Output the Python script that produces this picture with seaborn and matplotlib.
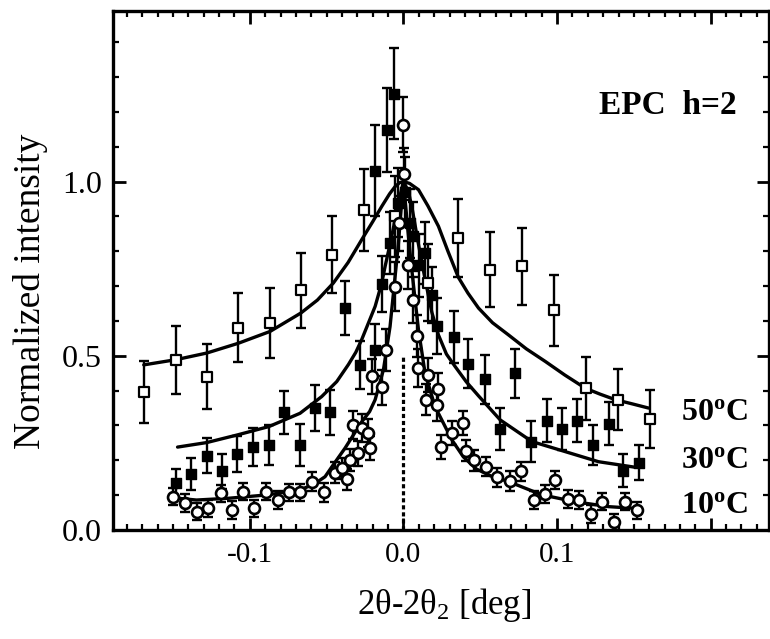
import numpy as np
import matplotlib
matplotlib.use('Agg')
import matplotlib.pyplot as plt
import seaborn as sns
from matplotlib.ticker import MultipleLocator, FixedLocator, FixedFormatter

# Données (2theta-2theta_2 en deg, intensité normalisée)
# 50 C : carrés ouverts
x_50 = [-0.169, -0.148, -0.128, -0.1075, -0.0868, -0.0667, -0.0463, -0.0254, -0.0054,
        0.0163, 0.0358, 0.0565, 0.0771, 0.0980, 0.1190, 0.1394, 0.1603]
y_50 = [0.396, 0.489, 0.440, 0.581, 0.594, 0.688, 0.790, 0.918, 0.900,
        0.710, 0.838, 0.747, 0.757, 0.631, 0.407, 0.374, 0.318]
e_50 = [0.090, 0.098, 0.093, 0.100, 0.100, 0.107, 0.110, 0.118, 0.115,
        0.110, 0.112, 0.108, 0.110, 0.102, 0.091, 0.087, 0.084]

# 30 C : carrés pleins
x_30 = [-0.1477, -0.138, -0.128, -0.118, -0.108, -0.0977, -0.0875, -0.0777, -0.0673,
        -0.0575, -0.0476, -0.038, -0.0282, -0.0184, -0.0184, -0.0141, -0.0104, -0.0087,
        -0.0060, -0.0033, 0.0010, 0.0040, 0.0065, 0.0100, 0.0140, 0.0185, 0.0217,
        0.0326, 0.0423, 0.0528, 0.0630, 0.0728, 0.0832, 0.0934, 0.1031, 0.1129,
        0.1233, 0.1336, 0.1429, 0.1531]
y_30 = [0.134, 0.161, 0.213, 0.168, 0.218, 0.238, 0.244, 0.338, 0.244,
        0.350, 0.338, 0.637, 0.474, 0.517, 1.032, 0.707, 1.149, 0.824,
        1.253, 0.940, 0.970, 0.880, 0.843, 0.760, 0.795, 0.675, 0.586,
        0.554, 0.477, 0.433, 0.289, 0.450, 0.254, 0.314, 0.289, 0.314,
        0.244, 0.305, 0.170, 0.193]
e_30 = [0.042, 0.045, 0.050, 0.050, 0.052, 0.055, 0.057, 0.062, 0.060,
        0.065, 0.065, 0.077, 0.070, 0.075, 0.130, 0.080, 0.120, 0.090,
        0.130, 0.100, 0.100, 0.100, 0.100, 0.090, 0.090, 0.080, 0.080,
        0.075, 0.070, 0.070, 0.060, 0.070, 0.058, 0.062, 0.060, 0.062,
        0.058, 0.062, 0.047, 0.050]

# 10 C : cercles ouverts
x_10 = [-0.1498, -0.1422, -0.1342, -0.1270, -0.1188, -0.1114, -0.1047, -0.0971, -0.0897,
        -0.0814, -0.0743, -0.0673, -0.0593, -0.0517, -0.0445, -0.0402, -0.0370, -0.0347,
        -0.0326, -0.0293, -0.0271, -0.0228, -0.0217, -0.0206, -0.0141, -0.0115, -0.0054,
        -0.0030, 0.0000, 0.0007, 0.0033, 0.0060, 0.0087, 0.0092, 0.0150, 0.0163,
        0.0217, 0.0228, 0.0245, 0.0315, 0.0385, 0.0407, 0.0462, 0.0536, 0.0608,
        0.0695, 0.0767, 0.0847, 0.0919, 0.0988, 0.1070, 0.1140, 0.1220, 0.1292,
        0.1368, 0.1444, 0.1520]
y_10 = [0.096, 0.077, 0.053, 0.062, 0.105, 0.057, 0.110, 0.062, 0.110,
        0.086, 0.108, 0.108, 0.139, 0.108, 0.165, 0.177, 0.146, 0.201,
        0.302, 0.220, 0.292, 0.278, 0.235, 0.441, 0.410, 0.517, 0.699,
        0.880, 1.164, 1.022, 0.761, 0.660, 0.558, 0.465, 0.374, 0.445,
        0.359, 0.405, 0.239, 0.278, 0.307, 0.228, 0.200, 0.182, 0.151,
        0.141, 0.168, 0.086, 0.103, 0.144, 0.089, 0.086, 0.046, 0.081,
        0.022, 0.081, 0.056]
e_10 = [0.025, 0.025, 0.025, 0.025, 0.025, 0.025, 0.025, 0.025, 0.025,
        0.025, 0.025, 0.025, 0.028, 0.028, 0.030, 0.030, 0.030, 0.032,
        0.040, 0.035, 0.040, 0.040, 0.035, 0.050, 0.050, 0.060, 0.070,
        0.080, 0.080, 0.075, 0.070, 0.065, 0.060, 0.055, 0.045, 0.050,
        0.045, 0.045, 0.035, 0.035, 0.035, 0.030, 0.030, 0.028, 0.028,
        0.028, 0.028, 0.025, 0.025, 0.025, 0.025, 0.025, 0.025, 0.025,
        0.025, 0.025, 0.025]

fx_50 = [-0.169, -0.148, -0.128, -0.1075, -0.0868, -0.0667, -0.056, -0.0456, -0.0360,
         -0.0272, -0.0200, -0.0141, -0.0090, -0.0054, -0.0025, 0.0, 0.0040, 0.0098,
         0.0160, 0.0228, 0.0290, 0.0358, 0.0420, 0.0489, 0.0580, 0.0684, 0.0800,
         0.0923, 0.1050, 0.1184, 0.1280, 0.138, 0.1490, 0.1596]
fy_50 = [0.474, 0.489, 0.508, 0.536, 0.570, 0.623, 0.660, 0.709, 0.768,
         0.833, 0.885, 0.929, 0.965, 0.986, 0.997, 1.000, 0.995, 0.977,
         0.930, 0.872, 0.800, 0.725, 0.680, 0.637, 0.595, 0.560, 0.520,
         0.484, 0.445, 0.407, 0.390, 0.374, 0.362, 0.350]

fx_30 = [-0.147, -0.128, -0.108, -0.0875, -0.0673, -0.0532, -0.0434, -0.0358, -0.0310,
         -0.0272, -0.0184, -0.0141, -0.0119, -0.0076, -0.0033, 0.0, 0.0030, 0.0054,
         0.0098, 0.0141, 0.0185, 0.0228, 0.0280, 0.0337, 0.0410, 0.0489, 0.0630,
         0.0836, 0.1053, 0.1270, 0.151]
fy_30 = [0.238, 0.251, 0.273, 0.297, 0.335, 0.383, 0.426, 0.475, 0.510,
         0.546, 0.642, 0.709, 0.757, 0.843, 0.939, 1.000, 0.975, 0.930,
         0.820, 0.720, 0.625, 0.560, 0.505, 0.469, 0.425, 0.385, 0.316,
         0.254, 0.225, 0.196, 0.180]

fx_10 = [-0.1466, -0.1347, -0.114, -0.088, -0.0673, -0.058, -0.051, -0.046, -0.038,
         -0.0272, -0.0220, -0.0184, -0.013, -0.0087, -0.0065, -0.0033, -0.0015, 0.0,
         0.0015, 0.0033, 0.0054, 0.0076, 0.0098, 0.0141, 0.0206, 0.0315, 0.0390,
         0.0475, 0.0570, 0.0684, 0.0901, 0.1119, 0.1336, 0.151]
fy_10 = [0.091, 0.086, 0.091, 0.101, 0.115, 0.132, 0.153, 0.185, 0.235,
         0.310, 0.340, 0.374, 0.460, 0.584, 0.680, 0.820, 0.920, 1.000,
         0.930, 0.840, 0.750, 0.661, 0.575, 0.450, 0.354, 0.259, 0.210,
         0.175, 0.155, 0.139, 0.101, 0.081, 0.067, 0.062]

# Faisceau direct (ligne pointillée)
beam_x = 0.0
beam_top = 0.5

temp_labels = ['50$^{\\mathbf{o}}$C', '30$^{\\mathbf{o}}$C', '10$^{\\mathbf{o}}$C']
temp_label_y = [0.316, 0.178, 0.049]

sns.set_theme(style='ticks')
plt.rcParams['font.family'] = ['Liberation Serif', 'DejaVu Serif']
plt.rcParams['mathtext.fontset'] = 'custom'
plt.rcParams['mathtext.rm'] = 'Liberation Serif'
plt.rcParams['mathtext.bf'] = 'Liberation Serif:bold'
plt.rcParams['mathtext.it'] = 'Liberation Serif:italic'
for key in ['text.color', 'axes.labelcolor', 'xtick.color', 'ytick.color', 'axes.edgecolor']:
    plt.rcParams[key] = 'black'

fig = plt.figure(figsize=(7.7, 6.39), dpi=100)
ax = fig.add_axes([0.1468, 0.1706, 0.852, 0.8122])

# Courbes
for fx, fy in [(fx_50, fy_50), (fx_30, fy_30), (fx_10, fy_10)]:
    sns.lineplot(x=fx, y=fy, ax=ax, color='black', lw=2.4, estimator=None,
                 sort=False, zorder=2, solid_joinstyle='round', solid_capstyle='round')

ax.vlines(beam_x, 0, beam_top, colors='black', lw=2.3,
          linestyles=(0, (1.3, 0.9)), zorder=2)

# Barres d'erreur
for x, y, e in [(x_50, y_50, e_50), (x_30, y_30, e_30), (x_10, y_10, e_10)]:
    ax.errorbar(x, y, yerr=e, fmt='none', ecolor='black', elinewidth=1.7,
                capsize=3.8, capthick=1.7, zorder=3)

# Points
sns.scatterplot(x=x_50, y=y_50, ax=ax, marker='s', s=42, color='white',
                edgecolor='black', linewidth=1.6, zorder=4)
sns.scatterplot(x=x_30, y=y_30, ax=ax, marker='s', s=52, color='black',
                edgecolor='black', linewidth=1.0, zorder=4)
sns.scatterplot(x=x_10, y=y_10, ax=ax, marker='o', s=62, color='white',
                edgecolor='black', linewidth=1.9, zorder=4)

ax.set_xlim(-0.189, 0.238)
ax.set_ylim(0.0, 1.49)

ax.xaxis.set_major_locator(FixedLocator([-0.1, 0.0, 0.1, 0.2]))
ax.xaxis.set_major_formatter(FixedFormatter(['-0.1', '0.0', '0.1', '']))
ax.xaxis.set_minor_locator(MultipleLocator(0.01))
ax.yaxis.set_major_locator(FixedLocator([0.0, 0.5, 1.0]))
ax.yaxis.set_major_formatter(FixedFormatter(['0.0', '0.5', '1.0']))
ax.yaxis.set_minor_locator(MultipleLocator(0.1))

ax.tick_params(which='both', direction='in', top=True, right=True, color='black')
ax.tick_params(which='major', length=9, width=2.0)
ax.tick_params(which='minor', length=4.5, width=1.6)
ax.tick_params(axis='y', which='major', labelsize=23, pad=8)
ax.tick_params(axis='x', which='major', labelsize=21, pad=9)
for sp in ax.spines.values():
    sp.set_linewidth(2.4)

ax.set_ylabel('Normalized intensity', fontsize=27, va='center')
ax.yaxis.set_label_coords(-0.126, 0.459)
ax.set_xlabel('2θ-2θ$_2$ [deg]', fontsize=25, va='center')
ax.xaxis.set_label_coords(0.504, -0.145)

ax.text(0.127, 1.193, 'EPC  h=2', fontsize=24, fontweight='bold',
        ha='left', va='baseline')
for lab, ly in zip(temp_labels, temp_label_y):
    ax.text(0.1805, ly, lab, fontsize=23, fontweight='bold', ha='left', va='baseline')

fig.savefig('out.png', dpi=100)
